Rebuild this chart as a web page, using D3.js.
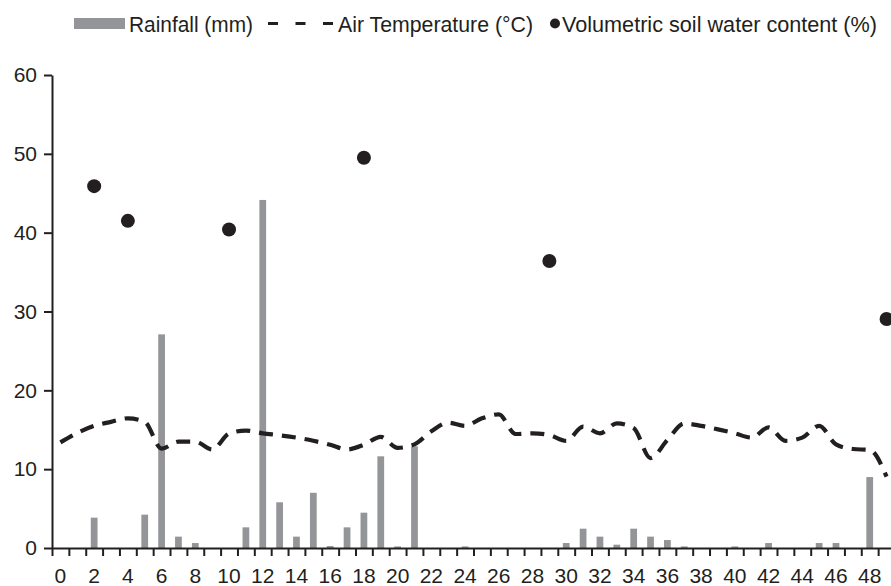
<!DOCTYPE html>
<html>
<head>
<meta charset="utf-8">
<script src="https://cdn.jsdelivr.net/npm/d3@7"></script>
<style>
  html, body { margin: 0; padding: 0; background: #fff; }
  svg { display: block; }
  text { font-family: "Liberation Sans", Arial, Helvetica, sans-serif; fill: #231f20; }
</style>
</head>
<body>
<svg id="chart" width="891" height="586"></svg>
<script>
// ---- data ----
const days = [0,1,2,3,4,5,6,7,8,9,10,11,12,13,14,15,16,17,18,19,20,21,22,23,24,25,26,27,28,29,30,31,32,33,34,35,36,37,38,39,40,41,42,43,44,45,46,47,48,49];
const rainfall = [0,0,3.85,0,0,4.23,27.1,1.44,0.63,0,0,2.62,44.15,5.8,1.44,7.0,0.25,2.62,4.48,11.63,0.2,12.9,0,0,0.2,0,0,0,0,0,0.63,2.45,1.44,0.42,2.45,1.44,1.01,0.2,0,0,0.2,0,0.63,0,0,0.63,0.63,0,9.0,0];
const airTemp = [13.4,14.6,15.5,16.0,16.45,16.0,12.6,13.5,13.5,12.5,14.5,14.9,14.55,14.3,14.0,13.6,13.1,12.5,13.1,14.1,12.7,13.15,14.8,15.9,15.5,16.45,16.95,14.46,14.55,14.33,13.6,15.4,14.55,15.8,15.2,11.4,13.7,15.8,15.5,15.05,14.55,14.0,15.3,13.6,14.0,15.5,13.15,12.56,12.43,9.05];
const soilDays = [2,4,10,18,29,49];
const soilWater = [45.9,41.5,40.4,49.5,36.4,29.05];
const yTicks = [0,10,20,30,40,50,60];
const xLabelDays = [0,2,4,6,8,10,12,14,16,18,20,22,24,26,28,30,32,34,36,38,40,42,44,46,48];
const legendLabels = ["Rainfall (mm)", "Air Temperature (\u00B0C)", "Volumetric soil water content (%)"];

// ---- layout ----
const svg = d3.select("#chart");
const x0 = 52, x1 = 895, yTop = 75, yBot = 548;
const ink = "#231f20";

const xBand = d3.scaleBand().domain(days).range([x0, x1]).paddingInner(0.6).paddingOuter(0.3);
const xEdge = d3.scaleLinear().domain([0, days.length]).range([x0, x1]);
const xC = d => xBand(d) + xBand.bandwidth() / 2;
const y = d3.scaleLinear().domain([0, 60]).range([yBot, yTop]);

// bars
svg.append("g").selectAll("rect").data(days).join("rect")
  .attr("x", d => xBand(d))
  .attr("width", xBand.bandwidth())
  .attr("y", (d, i) => y(rainfall[i]))
  .attr("height", (d, i) => yBot - y(rainfall[i]))
  .attr("fill", "#939598");

// temperature line
const line = d3.line().x((d, i) => xC(days[i])).y(d => y(d)).curve(d3.curveMonotoneX);
svg.append("path").datum(airTemp)
  .attr("d", line)
  .attr("fill", "none")
  .attr("stroke", ink)
  .attr("stroke-width", 4.2)
  .attr("stroke-dasharray", "14,9");

// soil water points
svg.append("g").selectAll("circle").data(soilDays).join("circle")
  .attr("cx", d => xC(d))
  .attr("cy", (d, i) => y(soilWater[i]))
  .attr("r", 7)
  .attr("fill", ink);

// y axis
const gy = svg.append("g").attr("transform", `translate(${x0},0)`)
  .call(d3.axisLeft(y).tickValues(yTicks).tickSize(8).tickPadding(7).tickSizeOuter(0));
// x axis ticks at boundaries
const gxt = svg.append("g").attr("transform", `translate(0,${yBot})`)
  .call(d3.axisBottom(xEdge).tickValues(d3.range(0, days.length + 1)).tickSize(8).tickSizeOuter(0).tickFormat(""));
// x axis labels
const gxl = svg.append("g").attr("transform", `translate(0,${yBot})`)
  .call(d3.axisBottom(xBand).tickValues(xLabelDays).tickSize(0).tickPadding(20).tickSizeOuter(0));
gxl.select(".domain").remove();

[gy, gxt, gxl].forEach(g => {
  g.selectAll("path, line").attr("stroke", ink).attr("stroke-width", 2);
  g.selectAll("text").style("font-size", "21px").style("font-family", "'Liberation Sans', Arial, sans-serif").attr("fill", ink);
});

// legend
const lg = svg.append("g");
const base = 31.5;
lg.append("rect").attr("x", 74).attr("y", 18).attr("width", 51).attr("height", 11).attr("fill", "#939598");
lg.append("text").attr("x", 129).attr("y", base).style("font-size", "22px")
  .attr("textLength", 124).attr("lengthAdjust", "spacingAndGlyphs").text(legendLabels[0]);
lg.append("line").attr("x1", 268).attr("x2", 334).attr("y1", 23.5).attr("y2", 23.5)
  .attr("stroke", ink).attr("stroke-width", 3).attr("stroke-dasharray", "10,17.5");
lg.append("text").attr("x", 338).attr("y", base).style("font-size", "22px")
  .attr("textLength", 195).attr("lengthAdjust", "spacingAndGlyphs").text(legendLabels[1]);
lg.append("circle").attr("cx", 555).attr("cy", 23.5).attr("r", 5).attr("fill", ink);
lg.append("text").attr("x", 562).attr("y", base).style("font-size", "22px")
  .attr("textLength", 315).attr("lengthAdjust", "spacingAndGlyphs").text(legendLabels[2]);
</script>
</body>
</html>
